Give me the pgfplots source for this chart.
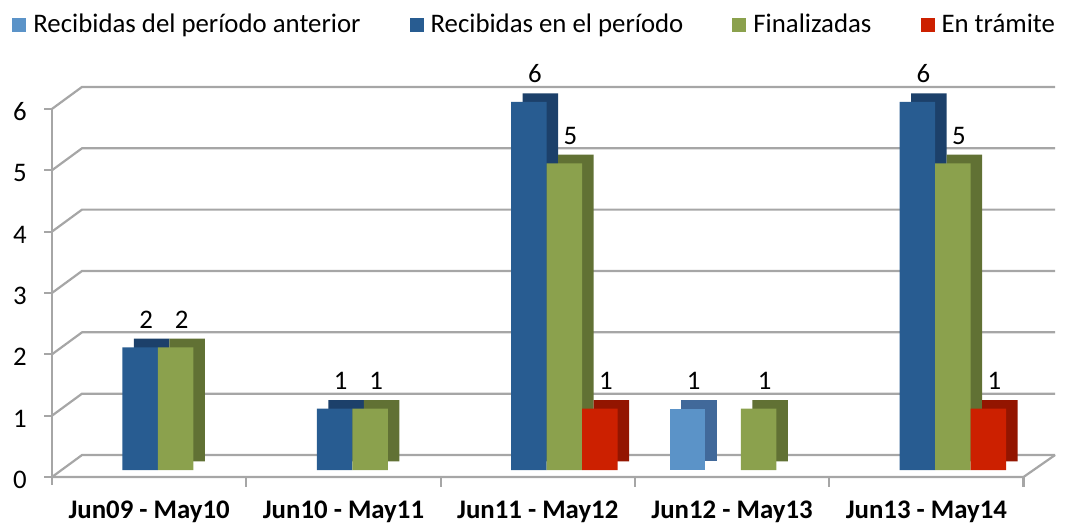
\documentclass[border=0pt]{standalone}
\usepackage{fontspec}
\setmainfont{Carlito}
\usepackage{pgfplots}
\pgfplotsset{compat=1.18}
\definecolor{cA}{HTML}{5B93C8}
\definecolor{cAs}{HTML}{41699A}
\definecolor{cB}{HTML}{285C91}
\definecolor{cBs}{HTML}{1C406A}
\definecolor{cC}{HTML}{8BA14D}
\definecolor{cCs}{HTML}{617134}
\definecolor{cD}{HTML}{CC2000}
\definecolor{cDs}{HTML}{931500}
\definecolor{gridc}{HTML}{A6A6A6}
\newcommand{\lbl}{\fontsize{13.4}{16}\selectfont}
\pgfplotsset{/pgfplots/ybar legend/.style={/pgfplots/legend image code/.code={\fill[##1] (0pt,-3.5pt) rectangle (7pt,3.5pt);}}}
\begin{document}
\begin{tikzpicture}
\useasboundingbox (-26pt,-24pt) rectangle (506.5pt,238.5pt);
\begin{axis}[
  at={(0pt,0pt)}, anchor=south west,
  x=97.15pt, y=30.675pt,
  xmin=-0.5455, xmax=4.617, ymin=-0.114, ymax=6.2445,
  clip=false,
  /pgf/number format/assume math mode=true,
  axis line style={draw=none},
  major tick length=0pt,
  tick style={draw=none},
  xtick={-0.0455,0.9545,1.9545,2.9545,3.9545},
  xticklabels={Jun09 - May10,Jun10 - May11,Jun11 - May12,Jun12 - May13,Jun13 - May14},
  ytick={-0.114,0.886,1.886,2.886,3.886,4.886,5.886},
  yticklabels={0,1,2,3,4,5,6},
  ticklabel style={font=\lbl},
  xticklabel style={font=\lbl\bfseries, anchor=base, inner sep=0pt, yshift=-20.5pt},
  yticklabel style={anchor=east, inner sep=0pt, xshift=-12.5pt, yshift=-1.5pt},
  ybar=0pt, bar width=17.75pt,
  legend columns=4,
  legend style={draw=none, fill=none, at={(axis description cs:0,1)}, anchor=west,
    xshift=-20pt, yshift=31pt, font=\lbl, inner sep=0pt, nodes={inner sep=0pt},
    /tikz/every odd column/.append style={column sep=3.5pt},
    /tikz/every even column/.append style={column sep=24.5pt}},
  every node near coord/.append style={font=\lbl, text=black, anchor=base, inner sep=0pt, yshift=9.5pt, xshift=3pt},
]
% grid on the back wall and left wall
\draw[gridc, line width=1.1pt] (axis cs:-0.5455,-0.114) -- (axis cs:-0.391,0.2445) -- (axis cs:4.617,0.2445);
\draw[gridc, line width=1.1pt] (axis cs:-0.5455,0.886) -- (axis cs:-0.391,1.2445) -- (axis cs:4.617,1.2445);
\draw[gridc, line width=1.1pt] (axis cs:-0.5455,1.886) -- (axis cs:-0.391,2.2445) -- (axis cs:4.617,2.2445);
\draw[gridc, line width=1.1pt] (axis cs:-0.5455,2.886) -- (axis cs:-0.391,3.2445) -- (axis cs:4.617,3.2445);
\draw[gridc, line width=1.1pt] (axis cs:-0.5455,3.886) -- (axis cs:-0.391,4.2445) -- (axis cs:4.617,4.2445);
\draw[gridc, line width=1.1pt] (axis cs:-0.5455,4.886) -- (axis cs:-0.391,5.2445) -- (axis cs:4.617,5.2445);
\draw[gridc, line width=1.1pt] (axis cs:-0.5455,5.886) -- (axis cs:-0.391,6.2445) -- (axis cs:4.617,6.2445);
% left axis and ticks
\draw[gridc, line width=1.1pt] (axis cs:-0.5455,5.886) -- (axis cs:-0.5455,-0.2445);
\pgfplotsinvokeforeach{-0.114,0.886,1.886,2.886,3.886,4.886,5.886}{
  \draw[gridc, line width=1.1pt] (axis cs:-0.5455,#1) -- ++(-4pt,0pt);
}
% floor front edge
\draw[gridc, line width=1.1pt] (axis cs:-0.5455,-0.114) -- (axis cs:4.4545,-0.114) -- (axis cs:4.617,0.2445);
\pgfplotsinvokeforeach{0.4545,1.4545,2.4545,3.4545,4.4545}{
  \draw[gridc, line width=1.1pt] (axis cs:#1,-0.114) -- ++(0pt,-5pt);
}
% Recibidas del periodo anterior
\addplot[fill=cAs, draw=none, bar shift=-26.625pt, xshift=5.75pt, yshift=4.3pt, forget plot] coordinates {(3,1)};
\addplot[fill=cA, draw=none, bar shift=-26.625pt, nodes near coords] coordinates {(3,1)};
% Recibidas en el periodo
\addplot[fill=cBs, draw=none, bar shift=-8.875pt, xshift=5.75pt, yshift=4.3pt, forget plot] coordinates {(0,2) (1,1) (2,6) (4,6)};
\addplot[fill=cB, draw=none, bar shift=-8.875pt, nodes near coords] coordinates {(0,2) (1,1) (2,6) (4,6)};
% Finalizadas
\addplot[fill=cCs, draw=none, bar shift=8.875pt, xshift=5.75pt, yshift=4.3pt, forget plot] coordinates {(0,2) (1,1) (2,5) (3,1) (4,5)};
\addplot[fill=cC, draw=none, bar shift=8.875pt, nodes near coords] coordinates {(0,2) (1,1) (2,5) (3,1) (4,5)};
% En tramite
\addplot[fill=cDs, draw=none, bar shift=26.625pt, xshift=5.75pt, yshift=4.3pt, forget plot] coordinates {(2,1) (4,1)};
\addplot[fill=cD, draw=none, bar shift=26.625pt, nodes near coords] coordinates {(2,1) (4,1)};
\legend{Recibidas del período anterior,Recibidas en el período,Finalizadas,En trámite}
\end{axis}
\end{tikzpicture}
\end{document}
